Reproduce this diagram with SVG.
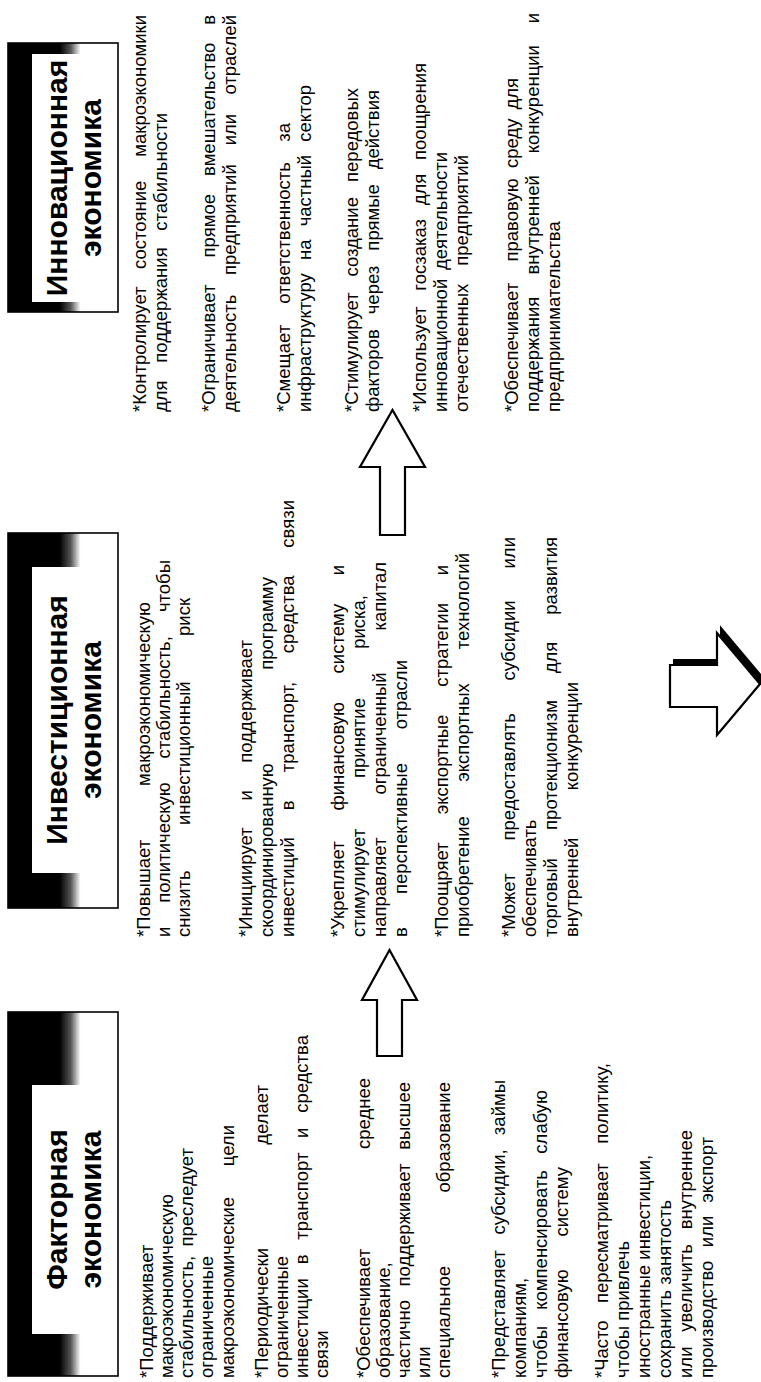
<svg xmlns="http://www.w3.org/2000/svg" width="761" height="1382" viewBox="0 0 761 1382">
<style>
.t{font-family:"Liberation Sans",Arial,sans-serif;font-size:18.5px;fill:#000}
.h{font-family:"Liberation Sans",Arial,sans-serif;font-size:30px;font-weight:bold;fill:#000;text-anchor:middle}
.e{text-anchor:end}
.m{text-anchor:middle}
.frame{fill:none;stroke:#000;stroke-width:1.6}
.arrow{fill:#fff;stroke:#000;stroke-width:2.2;stroke-linejoin:miter}
</style>
<defs>
<linearGradient id="hg" x1="0" y1="0" x2="0" y2="1">
<stop offset="0" stop-color="#000"/>
<stop offset="0.47" stop-color="#000"/>
<stop offset="0.57" stop-color="#555"/>
<stop offset="0.66" stop-color="#fff"/>
<stop offset="1" stop-color="#fff"/>
</linearGradient>
</defs>
<rect x="0" y="0" width="761" height="1382" fill="#fff"/>
<g transform="translate(0,1382) rotate(-90)">

<g id="factor-header">
<rect x="6" y="8" width="364" height="110" fill="url(#hg)"/>
<rect x="48" y="32" width="249" height="86" fill="#fff"/>
<rect x="6" y="8" width="364" height="110" class="frame"/>
<text class="h" x="172.5" y="67">Факторная</text>
<text class="h" x="172.5" y="101">экономика</text>
</g>

<g id="invest-header">
<rect x="474" y="8" width="375" height="110" fill="url(#hg)"/>
<rect x="509" y="32" width="306" height="86" fill="#fff"/>
<rect x="474" y="8" width="375" height="110" class="frame"/>
<text class="h" x="662" y="67">Инвестиционная</text>
<text class="h" x="662" y="101">экономика</text>
</g>

<g id="innov-header">
<rect x="1070" y="8" width="269" height="110" fill="url(#hg)"/>
<rect x="1080" y="32" width="248" height="86" fill="#fff"/>
<rect x="1070" y="8" width="269" height="110" class="frame"/>
<text class="h" x="1204" y="67">Инновационная</text>
<text class="h" x="1204" y="101">экономика</text>
</g>

<g id="factor-text">
<text class="t" x="4" y="153">*Поддерживает</text>
<text class="t" x="4" y="173">макроэкономическую</text>
<text class="t" y="193"><tspan x="4">стабильность,</tspan><tspan x="234" class="e">преследует</tspan></text>
<text class="t" x="4" y="213">ограниченные</text>
<text class="t" y="234"><tspan x="4">макроэкономические</tspan><tspan x="257" class="e">цели</tspan></text>
<text class="t" y="268"><tspan x="4">*Периодически</tspan><tspan x="297" class="e">делает</tspan></text>
<text class="t" x="4" y="288">ограниченные</text>
<text class="t" y="308"><tspan x="4">инвестиции</tspan><tspan x="122.8" class="m">в</tspan><tspan x="185.8" class="m">транспорт</tspan><tspan x="249.1" class="m">и</tspan><tspan x="347" class="e">средства</tspan></text>
<text class="t" x="4" y="328">связи</text>
<text class="t" y="370"><tspan x="4">*Обеспечивает</tspan><tspan x="304" class="e">среднее</tspan></text>
<text class="t" x="4" y="390">образование,</text>
<text class="t" y="410"><tspan x="4">частично</tspan><tspan x="157" class="m">поддерживает</tspan><tspan x="300" class="e">высшее</tspan></text>
<text class="t" x="4" y="430">или</text>
<text class="t" y="450"><tspan x="4">специальное</tspan><tspan x="300" class="e">образование</tspan></text>
<text class="t" y="505"><tspan x="4">*Представляет</tspan><tspan x="190.1" class="m">субсидии,</tspan><tspan x="302" class="e">займы</tspan></text>
<text class="t" x="4" y="526">компаниям,</text>
<text class="t" y="547"><tspan x="4">чтобы</tspan><tspan x="142.1" class="m">компенсировать</tspan><tspan x="292" class="e">слабую</tspan></text>
<text class="t" y="568"><tspan x="4">финансовую</tspan><tspan x="215" class="e">систему</tspan></text>
<text class="t" y="608"><tspan x="4">*Часто</tspan><tspan x="148.9" class="m">пересматривает</tspan><tspan x="319" class="e">политику,</tspan></text>
<text class="t" x="4" y="629">чтобы привлечь</text>
<text class="t" x="4" y="650">иностранные инвестиции,</text>
<text class="t" x="4" y="671">сохранить занятость</text>
<text class="t" y="692"><tspan x="4">или</tspan><tspan x="94.1" class="m">увеличить</tspan><tspan x="252" class="e">внутреннее</tspan></text>
<text class="t" y="713"><tspan x="4">производство</tspan><tspan x="150.6" class="m">или</tspan><tspan x="245" class="e">экспорт</tspan></text>
</g>

<g id="invest-text">
<text class="t" y="150"><tspan x="445">*Повышает</tspan><tspan x="780" class="e">макроэкономическую</tspan></text>
<text class="t" y="170"><tspan x="445">и</tspan><tspan x="539.4" class="m">политическую</tspan><tspan x="684.7" class="m">стабильность,</tspan><tspan x="822" class="e">чтобы</tspan></text>
<text class="t" y="190"><tspan x="445">снизить</tspan><tspan x="628.8" class="m">инвестиционный</tspan><tspan x="784" class="e">риск</tspan></text>
<text class="t" y="252"><tspan x="445">*Инициирует</tspan><tspan x="586.7" class="m">и</tspan><tspan x="742" class="e">поддерживает</tspan></text>
<text class="t" y="273"><tspan x="445">скоординированную</tspan><tspan x="805" class="e">программу</tspan></text>
<text class="t" y="294"><tspan x="445">инвестиций</tspan><tspan x="576.6" class="m">в</tspan><tspan x="655" class="m">транспорт,</tspan><tspan x="767.7" class="m">средства</tspan><tspan x="882" class="e">связи</tspan></text>
<text class="t" y="344"><tspan x="445">*Укрепляет</tspan><tspan x="625.7" class="m">финансовую</tspan><tspan x="743.4" class="m">систему</tspan><tspan x="817" class="e">и</tspan></text>
<text class="t" y="365"><tspan x="445">стимулирует</tspan><tspan x="644" class="m">принятие</tspan><tspan x="787" class="e">риска,</tspan></text>
<text class="t" y="386"><tspan x="445">направляет</tspan><tspan x="648.6" class="m">ограниченный</tspan><tspan x="820" class="e">капитал</tspan></text>
<text class="t" y="407"><tspan x="445">в</tspan><tspan x="553.5" class="m">перспективные</tspan><tspan x="722" class="e">отрасли</tspan></text>
<text class="t" y="448"><tspan x="445">*Поощряет</tspan><tspan x="617.6" class="m">экспортные</tspan><tspan x="737.1" class="m">стратегии</tspan><tspan x="817" class="e">и</tspan></text>
<text class="t" y="469"><tspan x="445">приобретение</tspan><tspan x="649.5" class="m">экспортных</tspan><tspan x="829" class="e">технологий</tspan></text>
<text class="t" y="515"><tspan x="445">*Может</tspan><tspan x="605.2" class="m">предоставлять</tspan><tspan x="741.5" class="m">субсидии</tspan><tspan x="845" class="e">или</tspan></text>
<text class="t" x="445" y="536">обеспечивать</text>
<text class="t" y="557"><tspan x="445">торговый</tspan><tspan x="617" class="m">протекционизм</tspan><tspan x="724.5" class="m">для</tspan><tspan x="845" class="e">развития</tspan></text>
<text class="t" y="578"><tspan x="445">внутренней</tspan><tspan x="700" class="e">конкуренции</tspan></text>
</g>

<g id="innov-text">
<text class="t" y="146"><tspan x="970">*Контролирует</tspan><tspan x="1157.2" class="m">состояние</tspan><tspan x="1367" class="e">макроэкономики</tspan></text>
<text class="t" y="167"><tspan x="970">для</tspan><tspan x="1077" class="m">поддержания</tspan><tspan x="1269" class="e">стабильности</tspan></text>
<text class="t" y="215"><tspan x="970">*Ограничивает</tspan><tspan x="1156.3" class="m">прямое</tspan><tspan x="1272.7" class="m">вмешательство</tspan><tspan x="1367" class="e">в</tspan></text>
<text class="t" y="236"><tspan x="970">деятельность</tspan><tspan x="1162.4" class="m">предприятий</tspan><tspan x="1252.4" class="m">или</tspan><tspan x="1367" class="e">отраслей</tspan></text>
<text class="t" y="290"><tspan x="970">*Смещает</tspan><tspan x="1149" class="m">ответственность</tspan><tspan x="1259" class="e">за</tspan></text>
<text class="t" y="311"><tspan x="970">инфраструктуру</tspan><tspan x="1132.3" class="m">на</tspan><tspan x="1191.4" class="m">частный</tspan><tspan x="1297" class="e">сектор</tspan></text>
<text class="t" y="358"><tspan x="970">*Стимулирует</tspan><tspan x="1145.2" class="m">создание</tspan><tspan x="1294" class="e">передовых</tspan></text>
<text class="t" y="379"><tspan x="970">факторов</tspan><tspan x="1092" class="m">через</tspan><tspan x="1164.6" class="m">прямые</tspan><tspan x="1292" class="e">действия</tspan></text>
<text class="t" y="426"><tspan x="970">*Использует</tspan><tspan x="1127.2" class="m">госзаказ</tspan><tspan x="1192.6" class="m">для</tspan><tspan x="1319" class="e">поощрения</tspan></text>
<text class="t" y="447"><tspan x="970">инновационной</tspan><tspan x="1230" class="e">деятельности</tspan></text>
<text class="t" y="468"><tspan x="970">отечественных</tspan><tspan x="1227" class="e">предприятий</tspan></text>
<text class="t" y="518"><tspan x="970">*Обеспечивает</tspan><tspan x="1162" class="m">правовую</tspan><tspan x="1238.7" class="m">среду</tspan><tspan x="1304" class="e">для</tspan></text>
<text class="t" y="539"><tspan x="970">поддержания</tspan><tspan x="1157.2" class="m">внутренней</tspan><tspan x="1282.8" class="m">конкуренции</tspan><tspan x="1369" class="e">и</tspan></text>
<text class="t" x="970" y="560">предпринимательства</text>
</g>

<g id="connectors">
<polygon class="arrow" points="326,377 382,377 382,362 432,389.5 382,417 382,402 326,402"/>
<polygon class="arrow" points="847,380 915,380 915,360 972,392.5 915,425 915,405 847,405"/>
<polygon points="680,674 722,674 722,721 754,721 703,764 652,721 680,721" fill="#000" stroke="#000" stroke-width="2"/>
<polygon class="arrow" points="675,670 717,670 717,717 749,717 698,760 647,717 675,717"/>
</g>

</g>
</svg>
